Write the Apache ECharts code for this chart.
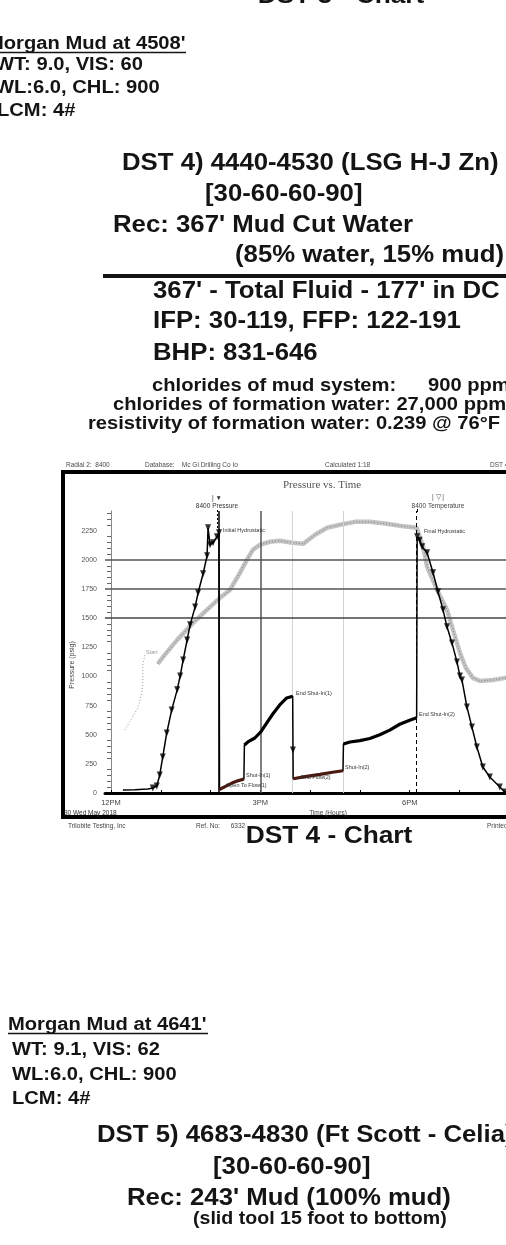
<!DOCTYPE html>
<html><head><meta charset="utf-8">
<script src="https://cdn.jsdelivr.net/npm/echarts@6/dist/echarts.min.js"></script>
<style>html,body{margin:0;padding:0;background:#fff}#c{width:506px;height:1245px}</style>
</head><body><div id="c"></div>
<script>
// ---- DATA (hours after 12PM, pressure in psig) ----
const runHours   = [0.24,0.48,0.74,0.84,0.92,0.98,1.04,1.12,1.22,1.33,1.39,1.45,1.53,1.59,1.69,1.75,1.85,1.93,1.95,1.99,2.05,2.13,2.17];
const runValues  = [26,28,34,43,60,155,309,515,713,885,1005,1142,1314,1443,1597,1718,1881,2036,2276,2130,2148,2199,2233];
const flow1Hours = [2.18,2.29,2.43,2.55,2.67];
const flow1Values= [30,55,85,105,119];
const shut1Hours = [2.68,2.75,2.89,3.01,3.13,3.25,3.39,3.53,3.65];
const shut1Values= [412,438,472,524,601,678,756,816,831];
const flow2Hours = [3.66,3.9,4.2,4.45,4.66];
const flow2Values= [122,140,160,178,191];
const shut2Hours = [4.67,4.8,5.0,5.2,5.4,5.6,5.8,6.0,6.14];
const shut2Values= [420,438,450,468,500,540,590,625,646];
const pullHours  = [6.15,6.20,6.25,6.35,6.47,6.57,6.67,6.75,6.85,6.95,7.01,7.05,7.15,7.25,7.35,7.47,7.61,7.81,7.91,8.11];
const pullValues = [2200,2170,2113,2061,1890,1726,1572,1426,1288,1125,1005,970,739,567,395,223,137,52,9,0];
// temperature trace, read in left-axis units
const tempStartHours  = [0.28,0.42,0.54,0.62,0.64,0.64,0.68];
const tempStartValues = [541,644,730,859,970,1099,1185];
const tempHours  = [0.94,1.08,1.33,1.65,1.99,2.19,2.39,2.59,2.73,2.85,2.99,3.19,3.39,3.65,3.86,4.10,4.34,4.60,4.90,5.20,5.54,5.80,6.14,6.27,6.35,6.55,6.75,6.87,7.01,7.13,7.27,7.41,7.67,7.93,8.2];
const tempValues = [1108,1185,1314,1460,1597,1675,1743,1889,2001,2087,2130,2156,2164,2147,2138,2216,2276,2302,2327,2327,2310,2293,2276,2113,1941,1743,1572,1400,1202,1073,988,962,970,988,988];
const dropMarkerHours = [3.655];
const dropMarkerValues = [370];
const xTickHours  = [0,3,6];
const xTickLabels = ['12PM','3PM','6PM'];
const yTickValues = [0,250,500,750,1000,1250,1500,1750,2000,2250];
const refLines    = [1500,1750,2000];
const eventHours  = [2.17,3.01,3.65,4.66,6.14];

const zip = (a,b)=>a.map((v,i)=>[v,b[i]]);
const pressurePath = zip(runHours,runValues).concat(zip(flow1Hours,flow1Values), zip(shut1Hours,shut1Values), zip(flow2Hours,flow2Values), zip(shut2Hours,shut2Values), zip(pullHours,pullValues));
const triPts = zip(runHours.slice(3),runValues.slice(3)).concat(zip(pullHours.slice(0,19),pullValues.slice(0,19)), zip(dropMarkerHours,dropMarkerValues));

const INK='#141414';
const SX=1.12;
function T(text,x,y,size,opt){opt=opt||{};return {type:'text',x:x,y:y,scaleX:opt.sx||SX,z:50,style:{text:text,x:0,y:0,fill:opt.fill||INK,font:(opt.w||'bold')+' '+size+'px "Liberation Sans", Arial, sans-serif',align:opt.align||'left',verticalAlign:'middle'}};}
function S(text,x,y,size,opt){opt=opt||{};return {type:'text',x:x,y:y,rotation:opt.rot||0,z:50,style:{text:text,x:0,y:0,fill:opt.fill||'#4a4a4a',font:(opt.w||'normal')+' '+size+'px '+(opt.f||'"Liberation Sans", Arial, sans-serif'),align:opt.align||'left',verticalAlign:'middle'}};}
function L(x1,y1,x2,y2,w,c,dash){return {type:'line',z:40,shape:{x1:x1,y1:y1,x2:x2,y2:y2},style:{stroke:c||INK,lineWidth:w,lineDash:dash||null}};}

const graphics = [
  T('DST 3 - Chart',341,-3,23.5,{align:'center'}),
  T("Morgan Mud at 4508'",-13,44,18), L(-13,52.5,186,52.5,1.5),
  T('WT: 9.0, VIS: 60',-5,65.5,18),
  T('WL:6.0, CHL: 900',-5,88.5,18),
  T('LCM: 4#',-3,111.5,18),
  T('DST 4) 4440-4530 (LSG H-J Zn)',122,163.5,23),
  T('[30-60-60-90]',205,194.5,23),
  T("Rec: 367' Mud Cut Water",113,225.5,23),
  T('(85% water, 15% mud)',235,256,23),
  L(103,276,506,276,4),
  T("367' - Total Fluid - 177' in DC",153,292,23),
  T('IFP: 30-119, FFP: 122-191',153,322,23),
  T('BHP: 831-646',153,354,23),
  T('chlorides of mud system:',152,386,18),
  T('900 ppm',428,386,18),
  T('chlorides of formation water: 27,000 ppm',113,405,18),
  T('resistivity of formation water: 0.239 @ 76°F',88,424.5,18),
  // chart frame and header
  {type:'rect',z:30,shape:{x:63,y:472,width:520,height:345},style:{fill:'none',stroke:'#000',lineWidth:4}},
  S('Radial 2:  8400',66,465,6.5),
  S('Database:    Mc Gi Drilling Co Io',145,465,6.5),
  S('Calculated 1:18',325,465,6.5),
  S('DST 4',490,465,6.5),
  S('Pressure vs. Time',283,485,11,{f:'"Liberation Serif", serif',fill:'#555'}),
  S('| \u25BC',217,498,6.5,{align:'center',fill:'#333'}),
  S('8400 Pressure',217,506,6.5,{align:'center',fill:'#333'}),
  L(217.5,510,217.5,530,1,'#000',[2,2]),
  S('| \u25BD |',438,497,6.5,{align:'center',fill:'#555'}),
  S('8400 Temperature',438,506,6.5,{align:'center',fill:'#444'}),
  L(417.5,509,417.5,512,1,'#000'),
  S('Initial Hydrostatic',223,530,5.5,{fill:'#333'}),
  S('Final Hydrostatic',424,531,5.5,{fill:'#333'}),
  S('End Shut-In(1)',296,693,5.5,{fill:'#333'}),
  S('End Shut-In(2)',419,714,5.5,{fill:'#333'}),
  S('Shut-In(2)',345,767,5.5,{fill:'#333'}),
  S('End Flow(2)',301,777,5.5,{fill:'#333'}),
  S('Shut-In(1)',246,775,5.5,{fill:'#333'}),
  S('Open To Flow(1)',226,785,5.5,{fill:'#333'}),
  S('Start',146,652,5.5,{fill:'#999'}),
  S('Pressure (psig)',72,665,7,{rot:Math.PI/2,align:'center',fill:'#444'}),
  S('30 Wed May 2018',64,813,6.5,{fill:'#333'}),
  S('Time (Hours)',328,813,6.5,{align:'center',fill:'#444'}),
  S('Trilobite Testing, Inc',68,826,6.5,{fill:'#444'}),
  S('Ref. No:      6332',196,826,6.5,{fill:'#444'}),
  S('Printed:',487,826,6.5,{fill:'#444'}),
  T('DST 4 - Chart',329,836.5,23.5,{align:'center'}),
  // DST 5 block
  T("Morgan Mud at 4641'",8,1025,18), L(8,1033.5,208,1033.5,1.5),
  T('WT: 9.1, VIS: 62',12,1050,18),
  T('WL:6.0, CHL: 900',12,1075,18),
  T('LCM: 4#',12,1099,18),
  T('DST 5) 4683-4830 (Ft Scott - Celia)',97,1136,23),
  T('[30-60-60-90]',213,1167.5,23),
  T("Rec: 243' Mud (100% mud)",127,1199,23),
  T('(slid tool 15 foot to bottom)',193,1219,17.5)
];

const chart = echarts.init(document.getElementById('c'),null,{renderer:'canvas'});
chart.setOption({
  animation:false,
  backgroundColor:'#fff',
  grid:{left:105,right:0,top:511,bottom:452,containLabel:false},
  xAxis:{type:'value',min:-0.12,max:7.935,
    axisLine:{show:true,onZero:false,lineStyle:{color:'#000',width:3}},
    axisTick:{show:true,inside:true,length:3,customValues:[0,1,2,3,4,5,6,7],lineStyle:{color:'#000',width:1}},
    axisLabel:{customValues:xTickHours,formatter:v=>xTickLabels[xTickHours.indexOf(v)]||'',color:'#444',fontSize:7.5,margin:6,fontFamily:'Liberation Sans'},
    splitLine:{show:false}},
  yAxis:{type:'value',min:0,max:2420,interval:250,
    axisLine:{show:true,lineStyle:{color:'#888',width:1}},
    axisTick:{show:false},
    minorTick:{show:true,splitNumber:5,length:4,lineStyle:{color:'#666'}},
    axisLabel:{customValues:yTickValues,formatter:v=>String(v),color:'#555',fontSize:7,margin:8,fontFamily:'Liberation Sans'},
    splitLine:{show:false}},
  series:[
    {type:'line',data:zip(tempStartHours,tempStartValues),symbol:'none',z:2,lineStyle:{color:'#9a9a9a',width:1,type:[1,2]}},
    {type:'line',data:zip(tempHours,tempValues),symbol:'none',z:3,lineStyle:{color:'#c4c4c4',width:4.5}},
    {type:'line',data:zip(tempHours,tempValues),symbol:'none',z:4,lineStyle:{color:'#8c8c8c',width:1.2,type:[1,2]}},
    {type:'line',data:pressurePath,symbol:'none',z:5,lineStyle:{color:'#000',width:1.5},
      markLine:{symbol:'none',silent:true,label:{show:false},
        data:[
          {xAxis:eventHours[0],lineStyle:{color:'#000',width:1.5,type:'solid'}},
          {xAxis:eventHours[1],lineStyle:{color:'#555',width:1.5,type:'solid'}},
          {xAxis:eventHours[2],lineStyle:{color:'#d4d4d4',width:1,type:'solid'}},
          {xAxis:eventHours[3],lineStyle:{color:'#d4d4d4',width:1,type:'solid'}},
          {xAxis:eventHours[4],lineStyle:{color:'#000',width:1,type:[4,3]}},
          {yAxis:refLines[0],lineStyle:{color:'#444',width:1.5,type:'solid'}},
          {yAxis:refLines[1],lineStyle:{color:'#555',width:1.5,type:'solid'}},
          {yAxis:refLines[2],lineStyle:{color:'#555',width:1.5,type:'solid'}}
        ]}},
    {type:'line',data:zip(shut1Hours,shut1Values),symbol:'none',z:6,lineStyle:{color:'#000',width:3.2}},
    {type:'line',data:zip(shut2Hours,shut2Values),symbol:'none',z:6,lineStyle:{color:'#000',width:3.2}},
    {type:'line',data:zip(flow1Hours,flow1Values),symbol:'none',z:6,lineStyle:{color:'#4a1a12',width:3.2}},
    {type:'line',data:zip(flow2Hours,flow2Values),symbol:'none',z:6,lineStyle:{color:'#4a1a12',width:3.2}},
    {type:'scatter',data:triPts,symbol:'triangle',symbolRotate:180,symbolSize:[6,7],z:7,itemStyle:{color:'#000'}}
  ],
  graphic:graphics
});
</script></body></html>
